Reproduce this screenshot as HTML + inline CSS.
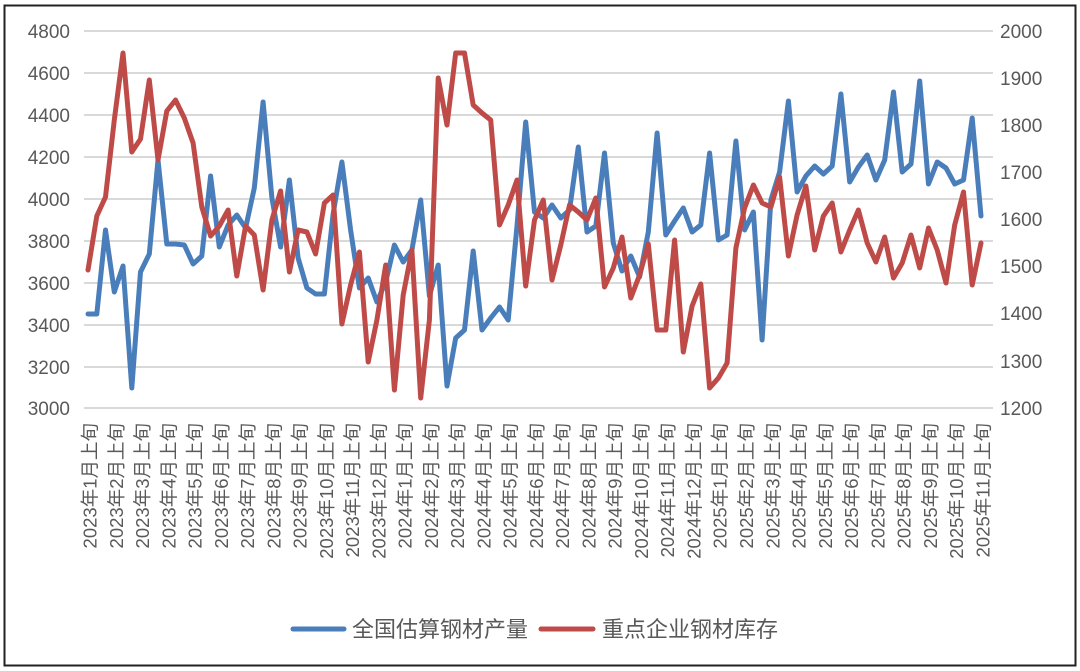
<!DOCTYPE html>
<html><head><meta charset="utf-8"><style>
body{margin:0;background:#fff;}
svg{display:block;font-family:"Liberation Sans","Noto Sans CJK SC",sans-serif;}
</style></head><body>
<svg width="1080" height="671" xmlns="http://www.w3.org/2000/svg">
<rect x="0" y="0" width="1080" height="671" fill="#fff"/>
<rect x="4.5" y="5.5" width="1071" height="660" fill="#fff" stroke="#222" stroke-width="2"/>
<g stroke="#d9d9d9" stroke-width="2">
<line x1="84" x2="993" y1="31" y2="31"/><line x1="84" x2="993" y1="73" y2="73"/><line x1="84" x2="993" y1="115" y2="115"/><line x1="84" x2="993" y1="157" y2="157"/><line x1="84" x2="993" y1="199" y2="199"/><line x1="84" x2="993" y1="241" y2="241"/><line x1="84" x2="993" y1="283" y2="283"/><line x1="84" x2="993" y1="325" y2="325"/><line x1="84" x2="993" y1="367" y2="367"/><line x1="84" x2="993" y1="408" y2="408"/>
</g>
<g font-size="19" fill="#595959" text-anchor="end">
<text x="70" y="38">4800</text><text x="70" y="80">4600</text><text x="70" y="122">4400</text><text x="70" y="164">4200</text><text x="70" y="206">4000</text><text x="70" y="248">3800</text><text x="70" y="290">3600</text><text x="70" y="332">3400</text><text x="70" y="374">3200</text><text x="70" y="415">3000</text>
</g>
<g font-size="19" fill="#595959">
<text x="1000" y="38">2000</text><text x="1000" y="85">1900</text><text x="1000" y="132">1800</text><text x="1000" y="179">1700</text><text x="1000" y="226">1600</text><text x="1000" y="273">1500</text><text x="1000" y="320">1400</text><text x="1000" y="368">1300</text><text x="1000" y="415">1200</text>
</g>
<g id="xl" font-size="18.5" fill="#595959" text-anchor="end"></g>
<polyline id="blue" fill="none" stroke="#4a7ebb" stroke-width="5" stroke-linejoin="round" stroke-linecap="round"/>
<polyline id="red" fill="none" stroke="#be4b48" stroke-width="5" stroke-linejoin="round" stroke-linecap="round"/>
<line x1="293" x2="344" y1="629" y2="629" stroke="#4a7ebb" stroke-width="5" stroke-linecap="round"/>
<text x="352" y="637" font-size="22" fill="#595959">全国估算钢材产量</text>
<line x1="541" x2="593" y1="629" y2="629" stroke="#be4b48" stroke-width="5" stroke-linecap="round"/>
<text x="602" y="637" font-size="22" fill="#595959">重点企业钢材库存</text>
</svg>
<script>
var b=[314,314,230,292,266,388,272,254,160,244,244,245,264,256,176,247,225,215,228,188,102,198,247,180,258,288,294,294,214,162,230,288,278,302,282,245,262,250,200,296,265,386,338,330,251,330,318,307,320,226,122,212,218,205,218,210,147,232,226,153,243,271,256,277,232,133,235,221,208,232,225,153,240,235,141,230,212,340,200,172,101,192,176,166,174,166,94,182,167,155,180,160,92,172,164,81,184,162,168,184,180,118,216];
var r=[270,216,197,120,53,152,139,80,160,111,100,118,143,207,236,226,210,276,226,235,290,220,191,272,230,232,254,203,195,324,285,252,362,320,265,390,295,250,398,320,78,125,53,53,105,113,120,225,205,180,286,220,200,280,245,205,212,220,198,287,268,237,298,275,244,330,330,240,352,306,284,388,378,363,248,208,185,203,207,177,256,215,186,250,216,203,252,230,210,243,262,237,278,263,235,268,228,250,283,225,192,285,243];
function pts(a){var n=a.length,s=[];for(var i=0;i<n;i++){s.push((88+i*(893/(n-1))).toFixed(1)+","+a[i]);}return s.join(" ");}
document.getElementById('blue').setAttribute('points',pts(b));
document.getElementById('red').setAttribute('points',pts(r));
var g=document.getElementById('xl'),h='';
for(var i=0;i<35;i++){var y=2023+Math.floor(i/12),m=i%12+1;var x=90+i*26.26+6.5;
h+='<text transform="translate('+x.toFixed(1)+',423) rotate(-90)">'+y+'年'+m+'月上旬</text>';}
g.innerHTML=h;
</script>
</body></html>
